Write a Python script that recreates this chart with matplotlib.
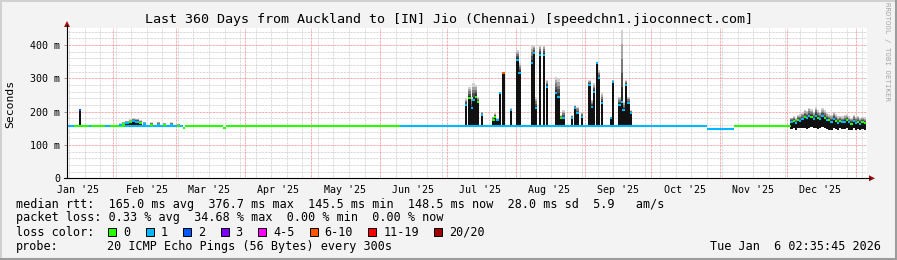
import datetime as dt
import numpy as np
import matplotlib
matplotlib.use("Agg")
import matplotlib.pyplot as plt
from matplotlib.lines import Line2D
from matplotlib.patches import Rectangle, Polygon

# size of the picture in pixels
W, H = 897, 260

# time range of the graph (360 days)
start = dt.datetime(2025, 1, 11, 2, 35, 45)
n_days = 360

# loss colours of smokeping
loss_labels = ["0", "1", "2", "3", "4-5", "6-10", "11-19", "20/20"]
loss_colors = ["#26ff00", "#00b8ff", "#0059ff", "#7e00ff", "#ff00ff",
               "#ff5500", "#ff0000", "#a10000"]

# flat parts of the median line (day offsets from start, ms, loss class)
base_start = [0, 3, 10, 11, 17, 19.5, 26, 52, 53, 70, 71.5, 150, 178, 255, 288, 300]
base_end = [3, 10, 11, 17, 19.5, 26, 52, 53, 70, 71.5, 150, 178, 255, 288, 300, 326]
base_ms = [156, 156, 156, 156, 156, 157, 158, 150, 157, 152, 157, 157, 158, 158, 149, 156]
base_loss = [1, 0, 1, 0, 1, 0, 1, 0, 0, 0, 0, 1, 1, 1, 1, 0]

# single spike in January
jan_day = [5.9]
jan_med = [205]

# small bump in February
bump_days = [24, 25.5, 27, 28.5, 30, 31.5, 33, 35, 38, 41, 44, 47, 50]
bump_lo = [155, 155, 156, 156, 156, 156, 156, 155, 155, 155, 155, 155, 155]
bump_med = [160, 163, 166, 168, 172, 170, 166, 162, 160, 160, 159, 160, 158]
bump_hi = [165, 169, 173, 177, 181, 179, 174, 170, 168, 170, 167, 168, 163]
bump_loss = [1, 0, 1, 0, 1, 1, 0, 1, 0, 1, 0, 1, 0]

# spikes July - September
spike_days = [179.6, 181.1, 182.1, 182.9, 183.9, 184.8, 186.6, 191.9, 192.6, 193.7,
              194.9, 196.4, 199.7, 202.7, 203.6, 209.1, 210.2, 211.1, 212.9, 214.7,
              215.9, 220.1, 221.1, 222.2, 223.4, 227.1, 228.6, 229.7, 231.6, 235.1,
              236.1, 237.2, 238.4, 239.3, 240.8, 244.7, 245.6, 248.6, 249.6, 250.4,
              251.6, 252.6, 253.7]
spike_med = [220, 240, 210, 235, 245, 230, 190, 175, 185, 175,
             255, 315, 205, 355, 315, 345, 375, 210, 370, 370,
             275, 255, 245, 180, 180, 180, 210, 195, 185, 280,
             215, 260, 345, 300, 225, 180, 290, 220, 230, 205,
             280, 225, 195]
spike_top = [240, 275, 245, 285, 280, 245, 200, 185, 195, 180,
             260, 317, 210, 385, 345, 400, 400, 245, 400, 400,
             295, 305, 300, 190, 205, 190, 220, 215, 200, 295,
             235, 285, 350, 325, 255, 185, 295, 245, 445, 230,
             295, 245, 205]
spike_loss = [1, 0, 1, 1, 0, 0, 1, 0, 0, 1,
              1, 5, 1, 1, 1, 1, 1, 1, 1, 1,
              1, 1, 1, 0, 1, 1, 1, 1, 1, 1,
              1, 1, 1, 1, 1, 1, 1, 1, 1, 1,
              1, 1, 1]

# noisy December
dec_days = list(range(326, 360))
dec_lo = [148, 150, 146, 152, 150, 150, 152, 148, 150, 155, 150, 152, 148, 150, 155, 150, 148,
          146, 145, 150, 148, 145, 150, 147, 148, 150, 146, 145, 150, 146, 148, 145, 148, 146]
dec_med = [170, 172, 165, 175, 172, 178, 183, 180, 186, 184, 178, 188, 182, 178, 186, 180, 176,
           174, 170, 178, 172, 166, 172, 168, 170, 174, 168, 164, 172, 166, 169, 164, 168, 165]
dec_hi = [182, 186, 180, 190, 192, 196, 206, 202, 212, 208, 200, 214, 205, 200, 210, 205, 196,
          192, 190, 200, 192, 186, 188, 186, 190, 192, 186, 182, 190, 184, 187, 182, 185, 183]
dec_loss = [1, 0, 1, 0, 1, 1, 0, 1, 1, 0, 1, 1, 0, 1, 1, 0, 1,
            0, 1, 1, 0, 1, 0, 1, 1, 0, 1, 0, 1, 1, 0, 1, 0, 0]


def day_of(d):
    return (d - start).total_seconds() / 86400.0


fig = plt.figure(figsize=(W / 100, H / 100), dpi=100, facecolor="#f3f3f3")
ax = fig.add_axes([67 / W, 1 - 178.3 / H, 800 / W, (178.3 - 28) / H])
ax.set_facecolor("white")
ax.set_xlim(0, n_days)
ax.set_ylim(0, 451)
for s in ax.spines.values():
    s.set_visible(False)

dots = (0, (0.72, 0.72))

# grid: weekly (sundays) and monthly lines, 20 / 100 ms lines
d = dt.datetime(2025, 1, 12)
while d < start + dt.timedelta(days=n_days):
    if d.day != 1:
        ax.axvline(day_of(d), color="#cccccc", lw=0.72, ls=dots, zorder=0)
    d += dt.timedelta(days=7)
months = [dt.datetime(2025, m, 1) for m in range(2, 13)] + [dt.datetime(2026, 1, 1)]
for m in months:
    ax.axvline(day_of(m), color="#f08c8c", lw=0.72, ls=dots, zorder=1)
for v in range(20, 451, 20):
    if v % 100:
        ax.axhline(v, color="#cccccc", lw=0.72, ls=dots, zorder=0)
for v in range(100, 451, 100):
    ax.axhline(v, color="#f08c8c", lw=0.72, ls=dots, zorder=1)

# month labels
lab_days = [day_of(dt.datetime(2025, m, 16)) for m in range(1, 13)]
lab_txt = [dt.datetime(2025, m, 1).strftime("%b") + " '25" for m in range(1, 13)]
ax.set_xticks(lab_days)
ax.set_xticklabels(lab_txt, family="DejaVu Sans Mono", fontsize=7.2)
ax.tick_params(axis="x", length=0, pad=4.5)
ax.set_yticks([0, 100, 200, 300, 400])
ax.set_yticklabels(["0", "100 m", "200 m", "300 m", "400 m"], family="DejaVu Sans Mono", fontsize=7.2)
ax.tick_params(axis="y", length=2.2, width=0.72, color="#999999", pad=2.5)

# flat median line
for a, b, v, l in zip(base_start, base_end, base_ms, base_loss):
    ax.plot([a, b], [v, v], color=loss_colors[l], lw=1.5, solid_capstyle="butt", zorder=4)

shades = ["#2a2a2a", "#505050", "#7a7a7a", "#a5a5a5", "#d0d0d0"]


def smoke(days, lo, med, hi, loss, width):
    days = np.asarray(days, float)
    lo = np.asarray(lo, float)
    med = np.asarray(med, float)
    hi = np.asarray(hi, float)
    ax.bar(days, med - lo, bottom=lo, width=width, color="#111111", linewidth=0, zorder=3)
    step = (hi - med) / len(shades)
    for k, c in enumerate(shades):
        ax.bar(days, step, bottom=med + step * k, width=width, color=c, linewidth=0, zorder=2)
    for x, m, l in zip(days, med, loss):
        ax.plot([x - width / 2, x + width / 2], [m, m], color=loss_colors[l], lw=1.5,
                solid_capstyle="butt", zorder=5)


smoke(jan_day, [157], jan_med, [207], [2], 0.6)
smoke(bump_days, bump_lo, bump_med, bump_hi, bump_loss, 1.4)
smoke(spike_days, [158] * len(spike_days), spike_med, spike_top, spike_loss, 1.05)
smoke(dec_days, dec_lo, dec_med, dec_hi, dec_loss, 1.0)

# axes with red arrow heads
px = lambda x, y: (x / W, 1 - y / H)
fig.add_artist(Line2D([67 / W, 67 / W], [1 - 178.3 / H, 1 - 25 / H], color="black", lw=0.8))
fig.add_artist(Line2D([64 / W, 870 / W], [1 - 178.3 / H, 1 - 178.3 / H], color="black", lw=0.8))
fig.add_artist(Polygon([px(64, 27), px(70, 27), px(67, 21)], closed=True, transform=fig.transFigure,
                       color="#a01010", lw=0))
fig.add_artist(Polygon([px(869, 175.3), px(869, 181.3), px(875, 178.3)], closed=True,
                       transform=fig.transFigure, color="#a01010", lw=0))

mono = "DejaVu Sans Mono"
fig.text(0.5, 1 - 19 / H, "Last 360 Days from Auckland to [IN] Jio (Chennai) [speedchn1.jioconnect.com]",
         ha="center", va="center", family=mono, fontsize=9.6)
fig.text(10 / W, 1 - 103.5 / H, "Seconds", rotation=90, ha="center", va="center", family=mono, fontsize=8.2)
fig.text(886.5 / W, 1 - 52 / H, "RRDTOOL / TOBI OETIKER", rotation=270, ha="center", va="center",
         family=mono, fontsize=5.3, color="#a8a8a8")

# legend
row1 = "median rtt:  165.0 ms avg  376.7 ms max  145.5 ms min  148.5 ms now  28.0 ms sd  5.9   am/s"
row2 = "packet loss: 0.33 % avg  34.68 % max  0.00 % min  0.00 % now"
fig.text(16 / W, 1 - 204.3 / H, row1, ha="left", va="center", family=mono, fontsize=8.5)
fig.text(16 / W, 1 - 217.7 / H, row2, ha="left", va="center", family=mono, fontsize=8.5)
fig.text(16 / W, 1 - 232.3 / H, "loss color:", ha="left", va="center", family=mono, fontsize=8.5)
char_w = 7.1
bx = 108.3
for c, t in zip(loss_colors, loss_labels):
    fig.add_artist(Rectangle(px(bx, 236), 8 / W, 8 / H, transform=fig.transFigure,
                             facecolor=c, edgecolor="black", lw=0.7))
    fig.text((bx + 15) / W, 1 - 232.3 / H, t, ha="left", va="center", family=mono, fontsize=8.5)
    bx += 15 + len(t) * char_w + 15.3
fig.text(16 / W, 1 - 246.3 / H, "probe:", ha="left", va="center", family=mono, fontsize=8.5)
fig.text(107.3 / W, 1 - 246.3 / H, "20 ICMP Echo Pings (56 Bytes) every 300s", ha="left", va="center",
         family=mono, fontsize=8.5)
fig.text(881 / W, 1 - 246.3 / H, "Tue Jan  6 02:35:45 2026", ha="right", va="center", family=mono,
         fontsize=8.5)

# 3d frame
fig.add_artist(Line2D([0, 1], [1 - 0.5 / H, 1 - 0.5 / H], color="#d0d0d0", lw=1.4))
fig.add_artist(Line2D([0.5 / W, 0.5 / W], [0, 1], color="#d0d0d0", lw=1.4))
fig.add_artist(Line2D([0, 1], [1 / H, 1 / H], color="#9c9c9c", lw=1.5))
fig.add_artist(Line2D([1 - 1 / W, 1 - 1 / W], [0, 1], color="#9c9c9c", lw=1.5))

fig.savefig("out.png", dpi=100, facecolor=fig.get_facecolor())
